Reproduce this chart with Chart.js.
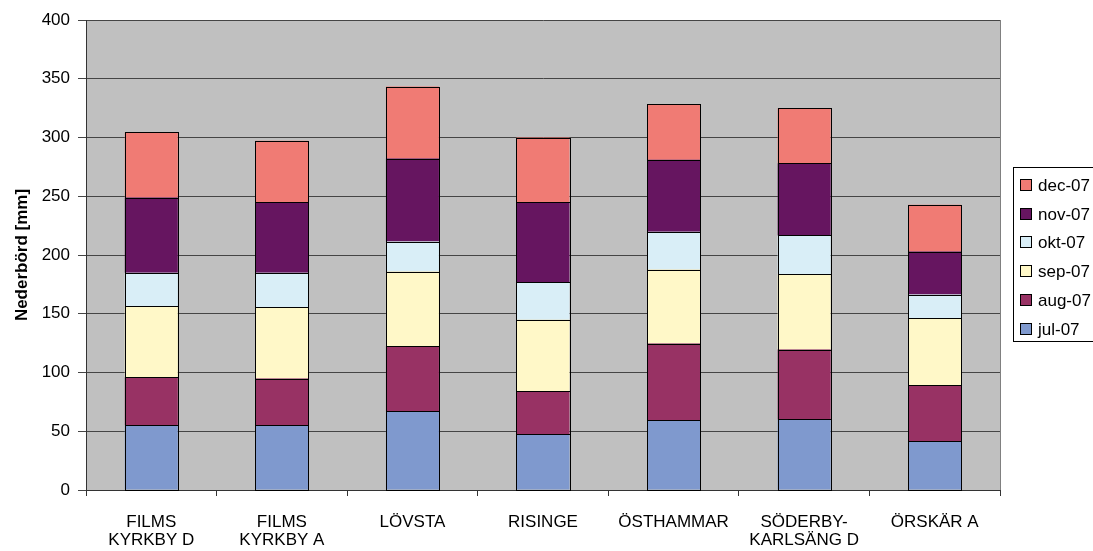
<!DOCTYPE html>
<html>
<head>
<meta charset="utf-8">
<script src="https://cdn.jsdelivr.net/npm/chart.js@4.4.1/dist/chart.umd.min.js"></script>
<style>
  html, body { margin: 0; padding: 0; background: #fff; }
</style>
</head>
<body>
<canvas id="myChart" width="1093" height="551"></canvas>
<script>
'use strict'

// stations (x categories)
const stations = [
  ['FILMS', 'KYRKBY D'],
  ['FILMS', 'KYRKBY A'],
  'LÖVSTA',
  'RISINGE',
  'ÖSTHAMMAR',
  ['SÖDERBY-', 'KARLSÄNG D'],
  'ÖRSKÄR A'
]

// monthly precipitation [mm]
const jul07 = [55.4, 55.4, 66.9, 47.4, 59.3, 60.1, 41.4]
const aug07 = [40.5, 39.4, 55.7, 36.6, 65.3, 59.4, 48.0]
const sep07 = [60.8, 61.0, 63.3, 61.0, 63.0, 64.4, 56.7]
const okt07 = [28.1, 29.0, 25.5, 32.1, 32.1, 32.7, 20.2]
const nov07 = [64.1, 59.9, 70.7, 67.6, 61.3, 61.5, 36.6]
const dec07 = [55.6, 52.5, 61.3, 55.3, 47.1, 46.9, 39.8]

const monthLabels = ['jul-07', 'aug-07', 'sep-07', 'okt-07', 'nov-07', 'dec-07']
const monthColors = ['#7F99CE', '#983264', '#FFF8C8', '#D9EEF7', '#661560', '#F07B74']
const yTicks = [0, 50, 100, 150, 200, 250, 300, 350, 400]

const FONT = "'Liberation Sans', Arial, sans-serif"
Chart.defaults.font.family = FONT
Chart.defaults.font.size = 17
Chart.defaults.color = '#000'

// grey plot area + right border
const plotBg = {
  id: 'plotBg',
  beforeDraw(chart) {
    const { ctx, chartArea: a } = chart
    ctx.save()
    ctx.fillStyle = '#C0C0C0'
    ctx.fillRect(a.left, a.top, a.right - a.left, a.bottom - a.top)
    ctx.restore()
  },
  afterDraw(chart) {
    const { ctx, chartArea: a } = chart
    ctx.save()
    ctx.strokeStyle = '#808080'
    ctx.lineWidth = 1
    ctx.beginPath()
    ctx.moveTo(Math.round(a.right) + 0.5, a.top)
    ctx.lineTo(Math.round(a.right) + 0.5, a.bottom)
    ctx.stroke()
    ctx.restore()
  }
}

// crisp black outline round every bar segment
const barOutline = {
  id: 'barOutline',
  afterDatasetsDraw(chart) {
    const { ctx } = chart
    ctx.save()
    ctx.strokeStyle = '#000'
    ctx.lineWidth = 1
    chart.data.datasets.forEach((ds, i) => {
      chart.getDatasetMeta(i).data.forEach(bar => {
        const { x, y, base, width } = bar.getProps(['x', 'y', 'base', 'width'], true)
        const l = Math.round(x - width / 2) + 0.5
        const r = Math.round(x + width / 2) + 0.5
        const t = Math.round(y) + 0.5
        const b = Math.round(base) + 0.5
        ctx.strokeRect(l, t, r - l, b - t)
      })
    })
    ctx.restore()
  }
}

// boxed legend on the right, reversed like in Excel
const boxLegend = {
  id: 'boxLegend',
  afterDraw(chart) {
    const { ctx } = chart
    const sets = chart.data.datasets
    const left = 1013.5, top = 167.5, step = 28.7
    ctx.save()
    ctx.strokeStyle = '#000'
    ctx.lineWidth = 1
    ctx.strokeRect(left, top, 120, 174)
    ctx.font = '17px ' + FONT
    ctx.textBaseline = 'middle'
    for (let i = 0; i < sets.length; i++) {
      const ds = sets[sets.length - 1 - i]
      const cy = Math.round(185 + i * step)
      ctx.fillStyle = ds.backgroundColor
      ctx.fillRect(1020.5, cy - 5.5, 11, 11)
      ctx.strokeRect(1020.5, cy - 5.5, 11, 11)
      ctx.fillStyle = '#000'
      ctx.fillText(ds.label, 1038, cy + 1)
    }
    ctx.restore()
  }
}

const seriesData = [jul07, aug07, sep07, okt07, nov07, dec07]

const ctx = document.getElementById('myChart')
new Chart(ctx, {
  type: 'bar',
  data: {
    labels: stations,
    datasets: seriesData.map((d, i) => ({
      label: monthLabels[i],
      data: d,
      backgroundColor: monthColors[i],
      borderWidth: 0,
      barPercentage: 0.406,
      categoryPercentage: 1
    }))
  },
  options: {
    responsive: false,
    animation: false,
    layout: { padding: { top: 20, right: 93, left: 0, bottom: 0 } },
    plugins: {
      legend: { display: false },
      tooltip: { enabled: false }
    },
    scales: {
      x: {
        stacked: true,
        afterFit: (s) => { s.height = 61 },
        grid: { drawOnChartArea: false, tickLength: 6, color: '#333', offset: true },
        border: { color: '#333' },
        ticks: { padding: 17, maxRotation: 0, autoSkip: false, font: { size: 17, lineHeight: 1.08 } }
      },
      y: {
        stacked: true,
        min: 0,
        max: 400,
        afterFit: (s) => { s.width = 86 },
        afterBuildTicks: (s) => { s.ticks = yTicks.map(v => ({ value: v })) },
        grid: { color: '#454545', tickLength: 8 },
        border: { color: '#333' },
        ticks: { padding: 8, font: { size: 17 } },
        title: {
          display: true,
          text: 'Nederbörd [mm]',
          font: { size: 17, weight: 'bold', lineHeight: 1 },
          padding: { top: 14, bottom: 0 }
        }
      }
    }
  },
  plugins: [plotBg, barOutline, boxLegend]
})
</script>
</body>
</html>
